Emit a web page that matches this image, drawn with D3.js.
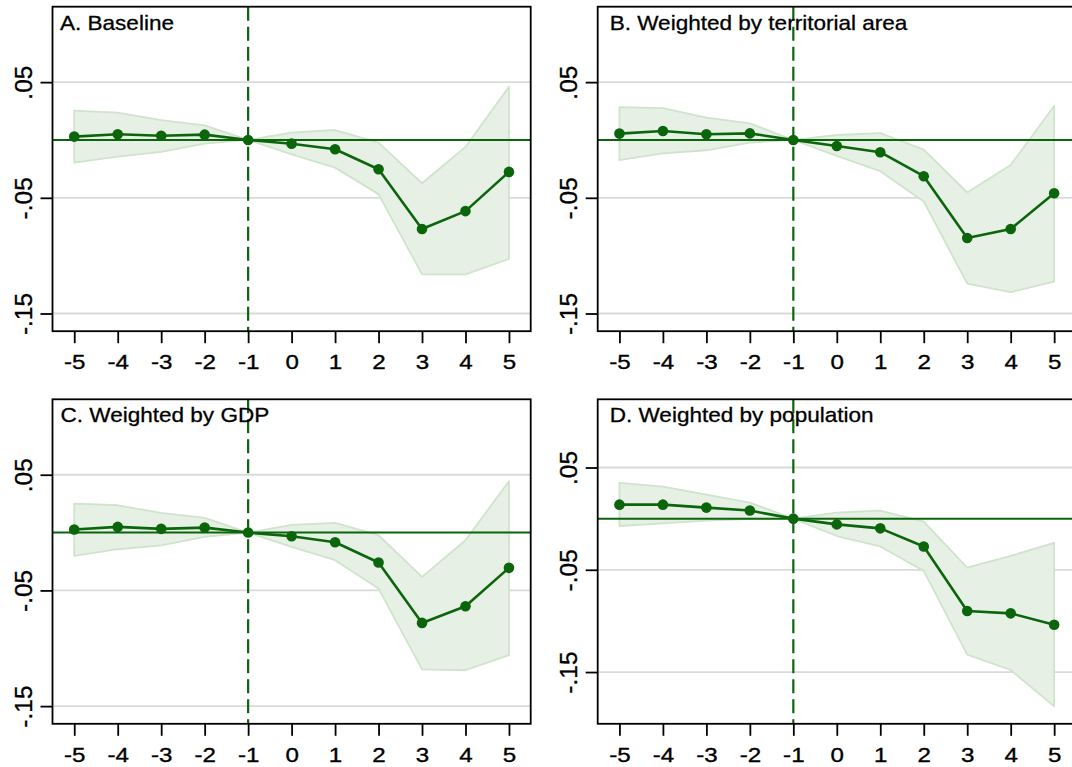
<!DOCTYPE html>
<html>
<head>
<meta charset="utf-8">
<script src="https://cdn.jsdelivr.net/npm/d3@7"></script>
<style>
  html, body { margin: 0; padding: 0; background: #ffffff; }
  svg { display: block; }
  text { font-family: "Liberation Sans", Arial, Helvetica, sans-serif; fill: #000; }
</style>
</head>
<body>
<svg id="chart" width="1072" height="767"></svg>
<script>
// ---------------- data ----------------
const periods = [-5, -4, -3, -2, -1, 0, 1, 2, 3, 4, 5];
const yTicks = [0.05, -0.05, -0.15];
const yTickLabels = [".05", "-.05", "-.15"];
const xTickLabels = ["-5", "-4", "-3", "-2", "-1", "0", "1", "2", "3", "4", "5"];
const titles = ["A. Baseline", "B. Weighted by territorial area", "C. Weighted by GDP", "D. Weighted by population"];

const coefA = [0.0029, 0.0049, 0.0037, 0.0046, 0, -0.0032, -0.0080, -0.0253, -0.0770, -0.0615, -0.0276];
const hiA   = [0.0253, 0.0236, 0.0172, 0.0126, 0, 0.0063, 0.0086, -0.0023, -0.0374, -0.0060, 0.0460];
const loA   = [-0.0195, -0.0144, -0.0103, -0.0032, 0, -0.0124, -0.0239, -0.0468, -0.1161, -0.1161, -0.1029];

const coefB = [0.0055, 0.0078, 0.0049, 0.0057, 0, -0.0052, -0.0106, -0.0313, -0.0848, -0.0770, -0.0460];
const hiB   = [0.0284, 0.0276, 0.0193, 0.0144, 0, 0.0043, 0.0060, -0.0083, -0.0454, -0.0216, 0.0293];
const loB   = [-0.0175, -0.0115, -0.0089, -0.0023, 0, -0.0138, -0.0270, -0.0532, -0.1241, -0.1316, -0.1224];

const coefC = [0.0026, 0.0049, 0.0032, 0.0043, 0, -0.0032, -0.0084, -0.0259, -0.0781, -0.0637, -0.0305];
const hiC   = [0.0251, 0.0236, 0.0170, 0.0127, 0, 0.0066, 0.0084, -0.0023, -0.0383, -0.0066, 0.0444];
const loC   = [-0.0202, -0.0144, -0.0110, -0.0037, 0, -0.0124, -0.0239, -0.0484, -0.1182, -0.1190, -0.1060];

const coefD = [0.0137, 0.0137, 0.0108, 0.0079, 0, -0.0056, -0.0095, -0.0272, -0.0903, -0.0926, -0.1038];
const hiD   = [0.0350, 0.0314, 0.0236, 0.0157, 0, 0.0059, 0.0079, -0.0030, -0.0478, -0.0363, -0.0236];
const loD   = [-0.0072, -0.0046, -0.0020, -0.0005, 0, -0.0170, -0.0272, -0.0511, -0.1329, -0.1480, -0.1836];

const yDomainABC = [-0.1653, 0.1152];
const yDomainD = [-0.2006, 0.1167];
const xDomain = [-5.5, 5.5];

// ---------------- layout ----------------
const panels = [
  { title: titles[0], coef: coefA, hi: hiA, lo: loA, yDom: yDomainABC, x0: 52.5,  y0: 6.7,   titleDx: 7.5 },
  { title: titles[1], coef: coefB, hi: hiB, lo: loB, yDom: yDomainABC, x0: 597.7, y0: 6.7,   titleDx: 12 },
  { title: titles[2], coef: coefC, hi: hiC, lo: loC, yDom: yDomainABC, x0: 52.5,  y0: 399.3, titleDx: 8 },
  { title: titles[3], coef: coefD, hi: hiD, lo: loD, yDom: yDomainD,   x0: 597.7, y0: 399.3, titleDx: 12 }
];
const PW = 478.2, PH = 324.5;

const dark = "#0b650b";
const bandFill = "#e7f0e5";
const bandStroke = "#d0e3cd";
const gridColor = "#dadada";

const svg = d3.select("#chart");

panels.forEach(p => {
  const g = svg.append("g");
  const x = d3.scaleLinear().domain(xDomain).range([p.x0, p.x0 + PW]);
  const y = d3.scaleLinear().domain(p.yDom).range([p.y0 + PH, p.y0]);
  const bottom = p.y0 + PH;

  // gridlines
  g.selectAll(".grid").data(yTicks).enter().append("line")
    .attr("x1", p.x0).attr("x2", p.x0 + PW)
    .attr("y1", d => y(d)).attr("y2", d => y(d))
    .attr("stroke", gridColor).attr("stroke-width", 1.8);

  // CI band
  const rows = periods.map((t, i) => ({ t, c: p.coef[i], hi: p.hi[i], lo: p.lo[i] }));
  const area = d3.area().x(d => x(d.t)).y0(d => y(d.lo)).y1(d => y(d.hi));
  g.append("path").datum(rows).attr("d", area)
    .attr("fill", bandFill).attr("stroke", bandStroke).attr("stroke-width", 1.8)
    .attr("stroke-linejoin", "round");

  // zero line
  g.append("line").attr("x1", p.x0).attr("x2", p.x0 + PW)
    .attr("y1", y(0)).attr("y2", y(0))
    .attr("stroke", dark).attr("stroke-width", 2);

  // dashed vertical reference at -1
  g.append("line").attr("x1", x(-1)).attr("x2", x(-1))
    .attr("y1", p.y0).attr("y2", bottom)
    .attr("stroke", dark).attr("stroke-width", 2.2)
    .attr("stroke-dasharray", "14,6");

  // series line
  const line = d3.line().x(d => x(d.t)).y(d => y(d.c));
  g.append("path").datum(rows).attr("d", line)
    .attr("fill", "none").attr("stroke", dark).attr("stroke-width", 2.6)
    .attr("stroke-linejoin", "round");
  g.selectAll(".pt").data(rows).enter().append("circle")
    .attr("cx", d => x(d.t)).attr("cy", d => y(d.c)).attr("r", 5.3)
    .attr("fill", dark);

  // frame
  g.append("rect").attr("x", p.x0).attr("y", p.y0).attr("width", PW).attr("height", PH)
    .attr("fill", "none").attr("stroke", "#000").attr("stroke-width", 1.8);

  // x axis ticks
  const xa = d3.axisBottom(x).tickValues(periods).tickSize(12).tickFormat((d, i) => xTickLabels[i]);
  const xg = g.append("g").attr("transform", `translate(0,${bottom})`).call(xa);
  xg.select(".domain").remove();
  xg.selectAll(".tick line").attr("stroke", "#000").attr("stroke-width", 1.8);
  xg.selectAll(".tick text").attr("y", 0).attr("dy", 0)
    .attr("transform", "translate(0,38) scale(1.15,1)")
    .attr("stroke", "#000").attr("stroke-width", 0.35)
    .style("font-size", "21px")
    .style("font-family", '"Liberation Sans", Arial, sans-serif');

  // y axis ticks
  const ya = d3.axisLeft(y).tickValues(yTicks).tickSize(12).tickFormat((d, i) => yTickLabels[i]);
  const yg = g.append("g").attr("transform", `translate(${p.x0},0)`).call(ya);
  yg.select(".domain").remove();
  yg.selectAll(".tick line").attr("stroke", "#000").attr("stroke-width", 1.8);
  yg.selectAll(".tick text").attr("x", 0).attr("dy", 0)
    .attr("text-anchor", "middle")
    .attr("transform", "translate(-20.5,0) rotate(-90)")
    .attr("stroke", "#000").attr("stroke-width", 0.35)
    .style("font-size", "24.5px")
    .style("font-family", '"Liberation Sans", Arial, sans-serif');

  // title
  g.append("text")
    .attr("transform", `translate(${p.x0 + p.titleDx},${p.y0 + 22.8}) scale(1.1,1)`)
    .attr("stroke", "#000").attr("stroke-width", 0.3)
    .style("font-size", "20.5px")
    .text(p.title);
});
</script>
</body>
</html>
